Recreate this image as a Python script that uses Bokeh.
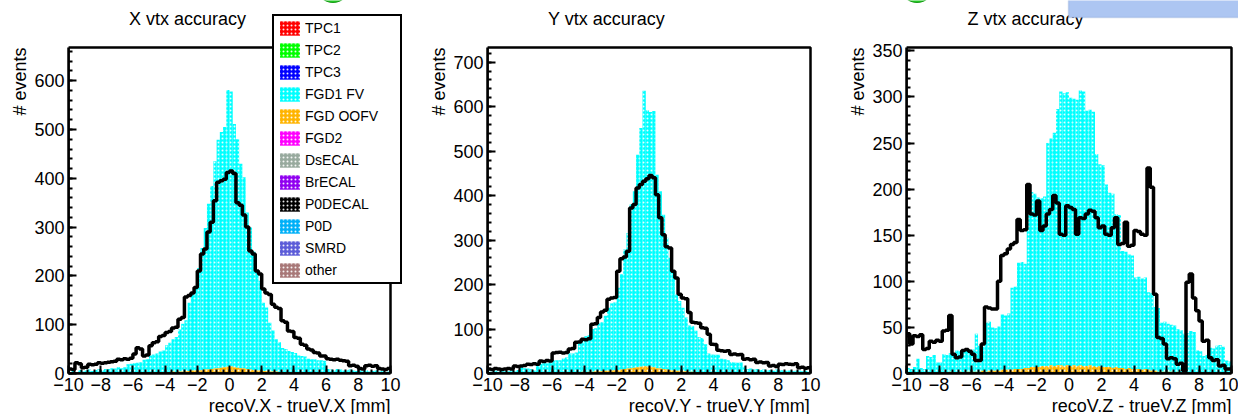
import numpy as np
from bokeh.plotting import figure
from bokeh.models import FixedTicker, Label, Legend, LegendItem, BoxAnnotation, Title
from bokeh.layouts import row
from bokeh.embed import file_html
from bokeh.resources import INLINE

# ---------------- data ----------------
BIN_LO, BIN_HI, N_BINS = -10.0, 10.0, 100
edges = np.linspace(BIN_LO, BIN_HI, N_BINS + 1)

legend_names = ["TPC1", "TPC2", "TPC3", "FGD1 FV", "FGD OOFV", "FGD2",
                "DsECAL", "BrECAL", "P0DECAL", "P0D", "SMRD", "other"]
legend_colors = ["#ff0000", "#00ff00", "#0000ff", "#00ffff", "#ffb400", "#ff00ff",
                 "#98aa9e", "#9000f0", "#000000", "#00b0f8", "#5c5cd8", "#a87878"]

x_major = [-10, -8, -6, -4, -2, 0, 2, 4, 6, 8, 10]

# categories with no visible entries (all bins read as zero)
no_counts = [0, 0, 0, 0, 0, 0, 0, 0, 0, 0,
             0, 0, 0, 0, 0, 0, 0, 0, 0, 0,
             0, 0, 0, 0, 0, 0, 0, 0, 0, 0,
             0, 0, 0, 0, 0, 0, 0, 0, 0, 0,
             0, 0, 0, 0, 0, 0, 0, 0, 0, 0,
             0, 0, 0, 0, 0, 0, 0, 0, 0, 0,
             0, 0, 0, 0, 0, 0, 0, 0, 0, 0,
             0, 0, 0, 0, 0, 0, 0, 0, 0, 0,
             0, 0, 0, 0, 0, 0, 0, 0, 0, 0,
             0, 0, 0, 0, 0, 0, 0, 0, 0, 0]

# X panel
x_fgd1fv = [3, 5, 2, 6, 4, 5, 7, 5, 6, 8,
            6, 8, 9, 10, 9, 11, 10, 12, 17, 19,
            19, 20, 22, 26, 27, 34, 37, 38, 42, 44,
            55, 60, 66, 72, 86, 98, 104, 140, 160, 170,
            210, 250, 290, 340, 375, 425, 468, 483, 492, 567,
            563, 498, 468, 419, 392, 321, 291, 243, 206, 184,
            140, 130, 100, 84, 66, 61, 49, 47, 43, 42,
            40, 35, 34, 33, 28, 28, 27, 26, 26, 25,
            8, 7, 6, 9, 7, 5, 7, 7, 6, 4,
            6, 4, 7, 4, 4, 6, 4, 4, 3, 4]
x_fgdoofv = [0, 1, 0, 1, 0, 1, 1, 0, 1, 1,
             1, 1, 0, 1, 1, 2, 1, 1, 2, 1,
             2, 2, 1, 2, 2, 3, 2, 3, 3, 3,
             3, 3, 4, 3, 4, 4, 5, 5, 6, 6,
             6, 7, 8, 8, 9, 10, 11, 12, 13, 14,
             15, 13, 12, 11, 10, 9, 8, 7, 6, 6,
             5, 5, 4, 4, 4, 3, 3, 3, 3, 2,
             2, 2, 2, 2, 2, 1, 2, 1, 1, 1,
             1, 1, 1, 0, 1, 1, 0, 1, 0, 1,
             0, 1, 0, 0, 1, 0, 0, 1, 0, 0]
x_outline = [9, 8, 22, 20, 12, 13, 19, 18, 19, 22,
             21, 22, 23, 24, 25, 29, 28, 30, 29, 31,
             40, 53, 50, 36, 38, 57, 63, 65, 76, 78,
             84, 86, 93, 95, 111, 115, 157, 160, 165, 176,
             210, 245, 255, 290, 310, 354, 392, 395, 398, 412,
             415, 410, 350, 345, 325, 300, 251, 245, 210, 204,
             173, 165, 162, 142, 136, 133, 108, 105, 87, 86,
             74, 72, 60, 58, 50, 48, 43, 42, 36, 36,
             30, 29, 28, 29, 27, 26, 25, 16, 17, 15,
             10, 9, 16, 17, 15, 16, 10, 9, 8, 10]

# Y panel
y_fgd1fv = [4, 3, 5, 4, 6, 5, 4, 6, 5, 7,
            13, 12, 10, 9, 6, 22, 21, 23, 22, 28,
            27, 29, 28, 32, 33, 43, 42, 44, 66, 70,
            81, 82, 96, 97, 108, 110, 124, 142, 151, 152,
            185, 214, 269, 305, 368, 397, 478, 537, 619, 576,
            573, 576, 435, 399, 347, 296, 252, 223, 172, 157,
            143, 121, 104, 102, 93, 79, 77, 63, 43, 41,
            40, 40, 31, 31, 28, 25, 24, 23, 24, 16,
            9, 11, 8, 9, 8, 8, 7, 7, 6, 9,
            6, 8, 6, 6, 5, 6, 6, 5, 6, 4]
y_fgdoofv = [0, 1, 1, 0, 1, 0, 1, 1, 0, 1,
             1, 0, 1, 1, 1, 2, 1, 2, 1, 2,
             2, 1, 2, 2, 3, 2, 3, 3, 3, 4,
             3, 4, 4, 5, 5, 5, 6, 6, 7, 8,
             8, 9, 10, 11, 12, 13, 14, 15, 17, 16,
             15, 14, 12, 11, 10, 9, 8, 7, 6, 6,
             5, 5, 4, 4, 3, 3, 3, 3, 2, 2,
             2, 2, 2, 1, 2, 1, 1, 1, 1, 1,
             1, 0, 1, 1, 0, 1, 0, 1, 0, 0,
             1, 0, 0, 1, 0, 0, 1, 0, 0, 0]
y_outline = [10, 9, 11, 10, 9, 10, 11, 10, 17, 16,
             17, 18, 21, 20, 22, 21, 28, 27, 29, 28,
             46, 47, 48, 46, 47, 55, 56, 70, 71, 77,
             76, 78, 111, 112, 126, 138, 142, 167, 170, 171,
             230, 258, 262, 275, 372, 380, 417, 425, 432, 438,
             445, 440, 402, 350, 312, 285, 282, 230, 215, 178,
             170, 168, 137, 115, 114, 113, 103, 102, 88, 66,
             65, 52, 51, 50, 51, 43, 44, 42, 43, 32,
             33, 31, 32, 25, 26, 24, 25, 17, 18, 16,
             21, 20, 22, 21, 20, 22, 13, 14, 12, 13]

# Z panel
z_fgd1fv = [5, 5, 6, 15, 6, 4, 18, 17, 20, 11,
            11, 20, 19, 20, 20, 24, 22, 25, 23, 22,
            24, 41, 28, 26, 53, 53, 47, 46, 48, 60,
            59, 61, 89, 89, 115, 116, 113, 190, 190, 188,
            184, 182, 184, 242, 246, 253, 278, 297, 296, 296,
            291, 289, 289, 298, 298, 277, 277, 276, 231, 219,
            219, 198, 189, 189, 166, 166, 127, 127, 123, 123,
            99, 100, 99, 99, 84, 84, 69, 69, 53, 54,
            52, 51, 51, 46, 46, 42, 43, 45, 44, 24,
            23, 19, 19, 27, 27, 29, 31, 29, 13, 13]
z_fgdoofv = [1, 0, 1, 1, 0, 1, 1, 1, 0, 1,
             1, 1, 1, 2, 1, 1, 2, 1, 2, 2,
             2, 2, 2, 3, 2, 3, 3, 3, 3, 4,
             4, 4, 4, 5, 5, 5, 6, 6, 7, 7,
             7, 8, 8, 8, 9, 8, 9, 9, 8, 9,
             8, 9, 8, 9, 8, 8, 9, 8, 7, 8,
             7, 7, 7, 6, 7, 6, 6, 5, 6, 5,
             5, 5, 4, 5, 4, 3, 3, 2, 2, 2,
             2, 2, 1, 2, 1, 1, 1, 1, 1, 1,
             1, 0, 1, 1, 0, 1, 0, 0, 1, 0]
z_outline = [43, 32, 41, 40, 42, 26, 27, 35, 34, 36,
             35, 46, 47, 63, 21, 17, 18, 25, 26, 24,
             21, 14, 14, 32, 72, 71, 70, 70, 100, 128,
             130, 135, 140, 142, 167, 155, 156, 205, 173, 172,
             187, 155, 160, 173, 178, 193, 185, 151, 150, 182,
             180, 178, 151, 169, 168, 173, 177, 176, 169, 158,
             160, 151, 150, 158, 169, 140, 141, 164, 138, 139,
             155, 154, 151, 150, 223, 202, 86, 39, 38, 32,
             16, 17, 16, 10, 11, 3, 99, 108, 82, 68,
             57, 35, 36, 17, 14, 15, 8, 9, 5, 5]

FONT = "Liberation Sans"
ROOT_FRAME_H = 326      # height of the drawn (ROOT style) frame
ROOT_FRAME_TOP = 47     # its distance from the top of the canvas
BORDER_BOTTOM = 41


def make_panel(axis_name, fgd1fv, oofv, outline, y_max, y_major, y_minor_step,
               border_left, root_w, border_right, with_legend, deco=None):
    # the bokeh frame covers the ROOT frame plus the space above / right of it,
    # so that the title, legend and overlays are drawn inside the frame
    px_x = root_w / (BIN_HI - BIN_LO)
    px_y = ROOT_FRAME_H / y_max
    frame_w = root_w + border_right
    frame_h = ROOT_FRAME_H + ROOT_FRAME_TOP
    x_end = BIN_LO + frame_w / px_x
    y_end = frame_h / px_y

    p = figure(frame_width=frame_w, frame_height=frame_h,
               min_border_left=border_left, min_border_right=0,
               min_border_top=0, min_border_bottom=BORDER_BOTTOM,
               x_range=(BIN_LO, x_end), y_range=(0, y_end),
               output_backend="svg", toolbar_location=None,
               background_fill_color="white", border_fill_color="white")
    p.grid.visible = False
    p.outline_line_color = None

    left = edges[:-1]
    right = edges[1:]
    oofv_a = np.array(oofv, dtype=float)
    fgd_a = np.array(fgd1fv, dtype=float)
    empty_a = np.array(no_counts, dtype=float)

    hatch = dict(hatch_pattern="dot", hatch_color="white", hatch_scale=4,
                 hatch_weight=1, hatch_alpha=0.9)
    renderers = {}
    for name, color in zip(legend_names, legend_colors):
        if name == "FGD OOFV":
            r = p.quad(left=left, right=right, bottom=0, top=oofv_a,
                       fill_color=color, line_color=None, **hatch)
        elif name == "FGD1 FV":
            r = p.quad(left=left, right=right, bottom=oofv_a, top=oofv_a + fgd_a,
                       fill_color=color, line_color=None, **hatch)
        else:
            r = p.quad(left=left, right=right, bottom=empty_a, top=empty_a,
                       fill_color=color, line_color=None, **hatch)
        renderers[name] = r

    p.step(x=edges, y=list(outline) + [outline[-1]], mode="after",
           line_width=3.5, line_color="black")

    # ROOT style frame box
    p.add_layout(BoxAnnotation(left=BIN_LO, right=BIN_HI, bottom=0, top=y_max,
                               fill_alpha=0, line_color="black", line_width=2.5,
                               line_alpha=1.0))

    p.xaxis.ticker = FixedTicker(ticks=x_major,
                                 minor_ticks=[round(BIN_LO + 0.4 * k, 2) for k in range(51)])
    p.yaxis.ticker = FixedTicker(ticks=y_major,
                                 minor_ticks=list(np.arange(0, y_max, y_minor_step)))
    p.xaxis.bounds = (BIN_LO, BIN_HI)
    p.yaxis.bounds = (0, y_max)
    for ax in (p.xaxis[0], p.yaxis[0]):
        ax.axis_line_width = 2.5
        ax.axis_line_color = "black"
        ax.major_tick_line_width = 2
        ax.minor_tick_line_width = 2
        ax.major_tick_line_color = "black"
        ax.minor_tick_line_color = "black"
        ax.major_tick_in = 8
        ax.major_tick_out = 0
        ax.minor_tick_in = 4
        ax.minor_tick_out = 0
        ax.major_label_text_font = FONT
        ax.major_label_text_font_size = "18px"
        ax.major_label_text_color = "black"
        ax.major_label_standoff = 4

    # axis titles in the side panels (ROOT puts them at the axis ends)
    p.add_layout(Title(text=f"recoV.{axis_name} - trueV.{axis_name} [mm]",
                       align="right", offset=border_right, standoff=0,
                       text_font=FONT, text_font_size="18px",
                       text_font_style="normal", text_color="black"), "below")
    p.add_layout(Title(text="# events", align="right", offset=ROOT_FRAME_TOP,
                       standoff=3, text_font=FONT, text_font_size="18px",
                       text_font_style="normal", text_color="black"), "left")

    # histogram title above the frame
    p.add_layout(Label(x=BIN_LO, y=y_max, x_offset=119, y_offset=29,
                       text=f"{axis_name} vtx accuracy", text_align="center",
                       text_baseline="alphabetic", text_font=FONT,
                       text_font_size="18px", text_color="black"))

    if deco is not None:
        deco(p, px_x, px_y, y_max, x_end, y_end)

    if with_legend:
        items = [LegendItem(label=n, renderers=[renderers[n]]) for n in legend_names]
        legend = Legend(items=items, location=(204, 89), margin=0, padding=3,
                        spacing=4, glyph_width=25, glyph_height=18,
                        label_height=18, label_width=92, label_standoff=3,
                        label_text_font=FONT, label_text_font_size="14px",
                        label_text_color="black", border_line_color="black",
                        border_line_width=2.5, border_line_alpha=1.0,
                        background_fill_color="white",
                        background_fill_alpha=1.0)
        p.add_layout(legend)
    return p


def bullet(p, px_x, px_y, y_end, dx):
    # green slide bullet peeking in at the top edge
    p.scatter(x=[BIN_LO + dx / px_x], y=[y_end + 15 / px_y], size=34,
              marker="circle", fill_color="#22cc22", line_color="#1a9a1a")


def deco_x(p, px_x, px_y, y_max, x_end, y_end):
    bullet(p, px_x, px_y, y_end, 264.5)


def deco_z(p, px_x, px_y, y_max, x_end, y_end):
    bullet(p, px_x, px_y, y_end, 10.5)
    p.add_layout(BoxAnnotation(left=BIN_LO + 162 / px_x, right=x_end + 5 / px_x,
                               bottom=y_end - 17 / px_y, top=y_end + 5 / px_y,
                               fill_color="#adc6f2", fill_alpha=1.0,
                               line_color="#7d9bd2", line_width=1.5))


p1 = make_panel("X", x_fgd1fv, x_fgdoofv, x_outline, 668,
                [0, 100, 200, 300, 400, 500, 600], 20, 68, 322, 23, True, deco_x)
p2 = make_panel("Y", y_fgd1fv, y_fgdoofv, y_outline, 733,
                [0, 100, 200, 300, 400, 500, 600, 700], 20, 74, 323, 16, False)
p3 = make_panel("Z", z_fgd1fv, z_fgdoofv, z_outline, 353.6,
                [0, 50, 100, 150, 200, 250, 300, 350], 10, 80, 325, 7, False, deco_z)

layout = row(p1, p2, p3)
open("out.html", "w").write(file_html(layout, INLINE))
